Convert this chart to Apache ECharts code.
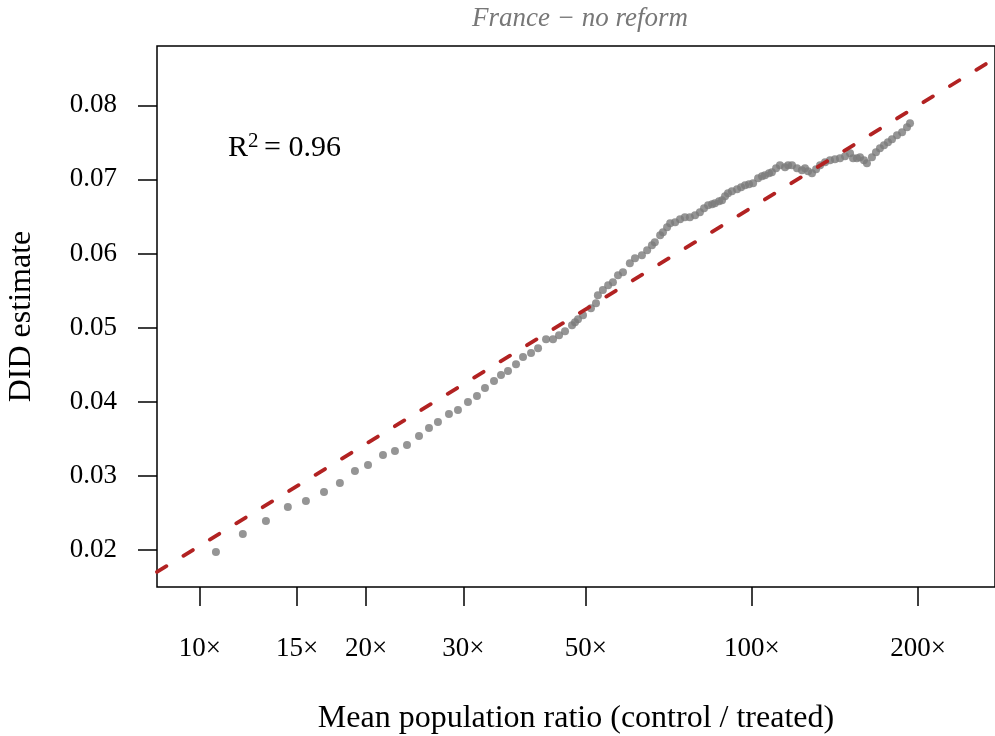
<!DOCTYPE html>
<html>
<head>
<meta charset="utf-8">
<script src="https://cdn.jsdelivr.net/npm/echarts@6/dist/echarts.min.js"></script>
<style>
html,body{margin:0;padding:0;background:#fff;}
#chart{width:995px;height:736px;}
</style>
</head>
<body>
<div id="chart"></div>
<script>
// Mean population ratio (control / treated)
const ratioValues = [
  10.69, 11.96, 13.17, 14.43, 15.56, 16.78, 17.93, 19.09, 20.16, 21.46,
  22.56, 23.72, 24.94, 26.00, 26.99, 28.26, 29.34, 30.59, 31.76, 32.84,
  34.10, 35.11, 36.15, 37.38, 38.49, 39.80, 40.98, 42.37, 43.62, 44.73,
  45.86, 47.22, 47.81, 48.41, 49.43, 51.10, 52.18,
  52.6, 53.7, 54.9, 56.0, 57.2, 58.4, 60.1, 61.4, 63.2, 64.6,
  65.9, 66.7, 68.2, 69.0, 70.2, 71.1, 72.6, 74.1, 75.6, 77.2,
  78.9, 80.5, 81.9, 83.3, 84.7, 85.7, 87.2, 88.3, 89.4, 90.5,
  92.0, 94.0, 95.6, 97.2, 98.8, 100.5, 102.6, 104.3, 105.6, 107.4,
  108.7, 110.6, 112.4, 114.8, 116.3, 118.2, 120.7, 123.2, 124.8, 126.4,
  128.5, 130.7, 132.9, 135.7, 138.5, 141.4, 144.4, 147.5, 150.6, 152.5,
  155.0, 157.0, 159.6, 161.6, 165.0, 167.8, 170.6, 173.5, 176.4, 179.4,
  183.2, 187.1, 191.0, 193.4
];
// DID estimate
const didValues = [
  0.01973, 0.02216, 0.02391, 0.02580, 0.02661, 0.02782, 0.02903, 0.03065, 0.03146, 0.03281,
  0.03335, 0.03416, 0.03537, 0.03645, 0.03726, 0.03834, 0.03887, 0.03995, 0.04076, 0.04184,
  0.04278, 0.04359, 0.04413, 0.04507, 0.04602, 0.04656, 0.04723, 0.04844, 0.04844, 0.04898,
  0.04952, 0.05033, 0.05074, 0.05114, 0.05168, 0.05262, 0.05330,
  0.05438, 0.05506, 0.05573, 0.05613, 0.05708, 0.05748, 0.05870, 0.05937, 0.05977, 0.06045,
  0.06112, 0.06153, 0.06247, 0.06288, 0.06355, 0.06409, 0.06422, 0.06463, 0.06490, 0.06490,
  0.06517, 0.06557, 0.06611, 0.06652, 0.06665, 0.06679, 0.06706, 0.06719, 0.06773, 0.06813,
  0.06840, 0.06867, 0.06894, 0.06921, 0.06935, 0.06948, 0.07016, 0.07043, 0.07056, 0.07083,
  0.07097, 0.07151, 0.07191, 0.07164, 0.07191, 0.07191, 0.07151, 0.07124, 0.07151, 0.07110,
  0.07083, 0.07137, 0.07191, 0.07231, 0.07258, 0.07272, 0.07285, 0.07312, 0.07353, 0.07285,
  0.07285, 0.07299, 0.07258, 0.07218, 0.07299, 0.07366, 0.07420, 0.07461, 0.07501, 0.07542,
  0.07595, 0.07636, 0.07703, 0.07757
];
// Fitted regression line endpoints (ratio, estimate)
const fitRatio = [8.36, 275.7];
const fitDid = [0.01703, 0.08633];
// Tick labels
const xTicks = [10, 15, 20, 30, 50, 100, 200];
const yTicks = [0.02, 0.03, 0.04, 0.05, 0.06, 0.07, 0.08];
const titleText = 'France \u2212 no reform';
const xName = 'Mean population ratio (control / treated)';
const yName = 'DID estimate';
const r2Value = '0.96';

const FONT = 'Liberation Serif';
const points = ratioValues.map((x, i) => [x, didValues[i]]);
const fitLine = fitRatio.map((x, i) => [x, fitDid[i]]);

const chart = echarts.init(document.getElementById('chart'), null, {renderer: 'canvas'});
chart.setOption({
  animation: false,
  backgroundColor: '#ffffff',
  grid: {left: 157, right: 0, top: 46, bottom: 149, show: true, containLabel: false,
         outerBoundsMode: 'none',
         borderColor: '#000', borderWidth: 1.5, backgroundColor: 'transparent'},
  xAxis: {
    type: 'log', logBase: 10, min: 8.36, max: 275.7,
    name: xName, nameLocation: 'middle', nameGap: 116,
    nameTextStyle: {fontFamily: FONT, fontSize: 32, color: '#000'},
    axisLine: {show: false},
    splitLine: {show: false}, minorTick: {show: false}, minorSplitLine: {show: false},
    axisTick: {show: true, inside: false, length: 19, customValues: xTicks,
               lineStyle: {color: '#000', width: 1.5}},
    axisLabel: {customValues: xTicks, margin: 48, fontFamily: FONT, fontSize: 27, color: '#000',
                formatter: v => v + '\u00d7'}
  },
  yAxis: {
    type: 'value', min: 0.015, max: 0.088,
    name: yName, nameLocation: 'middle', nameGap: 119, nameRotate: 90,
    nameTextStyle: {fontFamily: FONT, fontSize: 32, color: '#000'},
    axisLine: {show: false},
    splitLine: {show: false},
    axisTick: {show: true, inside: false, length: 19, customValues: yTicks,
               lineStyle: {color: '#000', width: 1.5}},
    axisLabel: {customValues: yTicks, margin: 40, fontFamily: FONT, fontSize: 27, color: '#000',
                formatter: v => v.toFixed(2)}
  },
  series: [
    {
      type: 'scatter', data: points, symbol: 'circle', symbolSize: 8,
      itemStyle: {color: '#7a7a7a'}, z: 2
    },
    {
      type: 'line', data: fitLine, showSymbol: false, clip: true, z: 3,
      lineStyle: {color: '#b22222', width: 3.8, type: [11, 20], cap: 'round'}
    }
  ],
  graphic: [
    {type: 'text', x: 580, y: 19, style: {text: titleText, fontFamily: FONT, fontStyle: 'italic',
      fontSize: 27, fill: '#777777', align: 'center', verticalAlign: 'middle'}},
    {type: 'text', x: 228, y: 148, style: {text: 'R', fontFamily: FONT, fontSize: 30, fill: '#000',
      verticalAlign: 'middle', align: 'left'}},
    {type: 'text', x: 248, y: 141, style: {text: '2', fontFamily: FONT, fontSize: 21, fill: '#000',
      verticalAlign: 'middle', align: 'left'}},
    {type: 'text', x: 264, y: 148, style: {text: '= ' + r2Value, fontFamily: FONT, fontSize: 30, fill: '#000',
      verticalAlign: 'middle', align: 'left'}}
  ]
});
</script>
</body>
</html>
